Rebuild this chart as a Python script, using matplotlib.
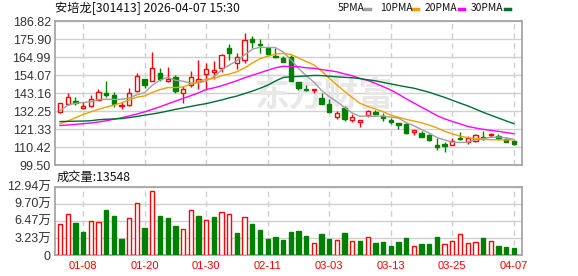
import matplotlib
matplotlib.use("Agg")
import matplotlib.pyplot as plt
import numpy as np
import pandas as pd

plt.rcParams['font.family'] = ['Liberation Sans', 'Noto Sans CJK SC', 'DejaVu Sans']

dates = ["01-05", "01-06", "01-07", "01-08", "01-09", "01-12", "01-13", "01-14", "01-15", "01-16",
         "01-19", "01-20", "01-21", "01-22", "01-23", "01-26", "01-27", "01-28", "01-29", "01-30",
         "02-02", "02-03", "02-04", "02-05", "02-06", "02-09", "02-10", "02-11", "02-12", "02-13",
         "02-24", "02-25", "02-26", "02-27", "03-02", "03-03", "03-04", "03-05", "03-06", "03-09",
         "03-10", "03-11", "03-12", "03-13", "03-16", "03-17", "03-18", "03-19", "03-20", "03-23",
         "03-24", "03-25", "03-26", "03-27", "03-30", "03-31", "04-01", "04-02", "04-03", "04-07"]

opens = [132.0, 136.3, 138.3, 134.0, 135.1, 139.3, 143.2, 142.2, 135.5, 135.9,
         144.4, 151.8, 150.4, 155.5, 150.8, 152.9, 143.2, 148.4, 150.8, 154.5,
         155.9, 158.7, 170.6, 161.6, 163.0, 176.3, 172.9, 170.6, 165.8, 164.4,
         165.0, 150.0, 145.8, 144.8, 140.3, 136.7, 128.8, 133.9, 127.0, 125.4,
         129.8, 131.6, 129.0, 126.6, 125.2, 124.2, 119.3, 119.1, 117.5, 111.8,
         112.0, 111.6, 115.7, 113.7, 114.1, 116.7, 117.7, 117.3, 115.3, 114.3]
highs = [137.1, 143.2, 140.7, 137.5, 141.9, 145.8, 150.7, 144.0, 137.9, 146.4,
         155.3, 151.8, 168.4, 158.3, 159.1, 153.9, 147.4, 156.5, 163.4, 161.4,
         162.4, 167.0, 173.1, 167.6, 179.9, 177.7, 176.3, 171.1, 170.7, 166.0,
         166.2, 150.0, 148.2, 145.8, 143.4, 139.7, 132.5, 135.5, 130.6, 126.8,
         132.8, 133.0, 131.2, 127.8, 125.2, 125.2, 120.7, 119.9, 118.1, 115.9,
         113.5, 115.9, 119.7, 117.1, 118.5, 120.3, 119.1, 118.1, 116.1, 114.9]
lows = [131.0, 135.9, 135.9, 133.5, 134.7, 138.9, 140.7, 134.5, 133.5, 135.5,
        143.6, 146.4, 150.4, 150.4, 149.8, 143.2, 137.1, 147.2, 145.4, 145.2,
        151.8, 155.9, 163.0, 157.9, 161.2, 170.6, 167.4, 166.6, 164.6, 161.8,
        150.4, 144.8, 144.2, 143.4, 136.7, 131.6, 127.2, 126.2, 125.8, 122.3,
        128.4, 129.6, 126.4, 124.6, 121.1, 118.3, 117.7, 116.5, 114.1, 108.4,
        107.2, 111.6, 114.7, 112.4, 113.3, 114.7, 116.5, 114.5, 113.3, 111.8]
closes = [137.1, 140.7, 136.9, 135.3, 139.5, 143.8, 141.9, 136.3, 135.9, 143.2,
          153.7, 148.4, 158.3, 151.8, 151.8, 144.4, 145.8, 152.9, 151.8, 157.9,
          157.1, 166.4, 167.8, 165.4, 175.3, 174.3, 172.3, 167.2, 165.2, 162.0,
          150.8, 146.0, 145.0, 145.8, 136.7, 131.6, 131.0, 127.2, 128.8, 126.8,
          132.2, 130.4, 128.2, 125.4, 123.8, 118.7, 120.7, 116.5, 114.7, 110.4,
          111.2, 114.1, 115.3, 115.7, 117.5, 115.3, 118.1, 115.7, 113.7, 112.5]

# volume in 万手
volumes = [5.87, 7.76, 6.12, 4.42, 6.44, 6.25, 8.52, 7.45, 3.03, 6.94,
           9.84, 5.17, 12.05, 7.45, 7.07, 5.55, 4.92, 8.52, 7.45, 6.63,
           7.26, 8.14, 7.76, 4.23, 7.19, 5.93, 4.73, 3.03, 3.41, 2.84,
           4.35, 4.54, 3.60, 2.27, 3.98, 3.03, 2.84, 4.23, 2.65, 2.65,
           3.34, 2.27, 2.46, 1.70, 2.46, 3.22, 1.70, 2.08, 2.08, 3.41,
           2.08, 2.59, 3.98, 2.27, 2.46, 3.22, 2.65, 1.70, 1.51, 1.35]
vol_dir = list("RRGGRRGGGRRGRGGGRRGRGRRGRGGGGGGGGRGGRGRGRGGGGGRGGGRRRRRGRGGG")

# moving-average values shown before each window is complete
ma5_head = [132.5, 135.8, 137.0, 137.5]
ma10_head = [124.6, 126.2, 128.2, 130.2, 131.8, 133.3, 134.7, 135.9, 137.3]
ma20_head = [123.5, 123.8, 124.2, 124.6, 125.0, 125.6, 126.4, 127.3, 128.2, 129.3,
             130.5, 131.8, 133.3, 134.9, 136.6, 138.3, 140.0, 141.6, 143.3]
ma30_head = [125.9, 126.0, 126.1, 126.2, 126.4, 127.0, 127.3, 127.5, 127.7, 128.3,
             129.0, 129.8, 130.5, 131.3, 132.3, 133.3, 134.2, 135.1, 136.0, 136.8,
             137.9, 139.0, 140.3, 141.4, 142.9, 144.4, 146.1, 148.0, 150.5]

price_ticks = ["99.50", "110.42", "121.33", "132.25", "143.16", "154.07", "164.99", "175.90", "186.82"]
vol_ticks = ["0", "3.23万", "6.47万", "9.70万", "12.94万"]
label_dates = ["01-08", "01-20", "01-30", "02-11", "03-03", "03-13", "03-25", "04-07"]

title = "安培龙[301413] 2026-04-07 15:30"
vol_title = "成交量:13548"
ma_names = ["5PMA", "10PMA", "20PMA", "30PMA"]

RED = "#ff0000"
GREEN = "#008000"
MA_COLORS = ["#a0a0a0", "#f0a000", "#ff00ff", "#006e30"]
GRID = "#d0d0d0"
SPINE = "#a0a0a0"
TXT = "#333333"

n = len(closes)
x = np.arange(n)
cs = pd.Series(closes)

def ma(win, head):
    s = cs.rolling(win).mean().to_numpy()
    s[:len(head)] = head
    return s

mas = [ma(5, ma5_head), ma(10, ma10_head), ma(20, ma20_head), ma(30, ma30_head)]

W, H = 578, 276
fig = plt.figure(figsize=(W / 100, H / 100), dpi=100)

def fx(px):
    return px / W

def fy(py):
    return 1 - py / H

axp = fig.add_axes([fx(55), fy(165), fx(522.3 - 55), fy(21.3) - fy(165)])
axv = fig.add_axes([fx(55), fy(255), fx(522.3 - 55), fy(186.7) - fy(255)])

xlim = (-0.65, 60.1)
tick_idx = [dates.index(d) for d in label_dates]

# ---- price panel
pt = [float(v) for v in price_ticks]
axp.set_xlim(*xlim)
axp.set_ylim(pt[0], pt[-1])
axp.set_yticks(pt)
axp.set_yticklabels(price_ticks)
for v in pt:
    axp.axhline(v, color=GRID, lw=1, zorder=0)
for i in tick_idx:
    axp.axvline(i, color=GRID, lw=1, ls=(0, (4, 3)), zorder=0)

axp.text((255 - 55) / (522.3 - 55), 1 - (95 - 21.3) / (165 - 21.3), "东方财富",
         transform=axp.transAxes, fontsize=25, color="#e8e8e8", fontweight="bold",
         ha="left", va="center", family=["Noto Sans CJK SC"], zorder=0.5)

bw = 0.56
for i in range(n):
    o, h, l, c = opens[i], highs[i], lows[i], closes[i]
    up = c >= o
    col = RED if up else GREEN
    axp.vlines(i, l, h, color=col, lw=1, zorder=2)
    bot = min(o, c)
    ht = max(abs(c - o), 0.25)
    if up:
        axp.bar(i, ht, bw, bottom=bot, facecolor="white", edgecolor=col, lw=1, zorder=3)
    else:
        axp.bar(i, ht, bw, bottom=bot, facecolor=col, edgecolor=col, lw=1, zorder=3)

for m, col in zip(mas, MA_COLORS):
    axp.plot(x, m, color=col, lw=1, zorder=4)

axp.set_xticks([])
for s in axp.spines.values():
    s.set_color(SPINE)
    s.set_linewidth(1.2)
axp.tick_params(axis="y", length=0, labelsize=9, labelcolor=TXT, pad=3)

# ---- volume panel
vt = [0, 3.23, 6.47, 9.70, 12.94]
axv.set_xlim(*xlim)
axv.set_ylim(0, 12.94)
axv.set_yticks(vt)
axv.set_yticklabels(vol_ticks)
for v in vt:
    axv.axhline(v, color=GRID, lw=1, zorder=0)
for i in tick_idx:
    axv.axvline(i, color=GRID, lw=1, ls=(0, (4, 3)), zorder=0)
for i in range(n):
    if vol_dir[i] == "R":
        axv.bar(i, volumes[i], bw, facecolor="white", edgecolor=RED, lw=1, zorder=3)
    else:
        axv.bar(i, volumes[i], bw, facecolor=GREEN, edgecolor=GREEN, lw=1, zorder=3)
axv.set_xticks(tick_idx)
axv.set_xticklabels(label_dates)
axv.tick_params(axis="x", length=0, labelsize=8, labelcolor=RED, pad=4)
axv.tick_params(axis="y", length=0, labelsize=9, labelcolor=TXT, pad=3)
for s in axv.spines.values():
    s.set_color(SPINE)
    s.set_linewidth(1.2)

# ---- texts
fig.text(fx(55), fy(8), title, fontsize=8.8, color="#111111", ha="left", va="center",
         family=["Noto Sans CJK SC"])
fig.text(fx(57), fy(177.5), vol_title, fontsize=8.8, color="#111111", ha="left", va="center",
         family=["Noto Sans CJK SC"])
leg_x = [338, 380, 425, 471]
mark_x = [365, 413, 459, 505]
for name, lx, mx, col in zip(ma_names, leg_x, mark_x, MA_COLORS):
    fig.text(fx(lx), fy(8), name, fontsize=7.4, color="#111111", ha="left", va="center",
             family=["Noto Sans CJK SC"])
    fig.add_artist(plt.Line2D([fx(mx), fx(mx + 5)], [fy(8.5), fy(8.5)], color=col, lw=2.5,
                              transform=fig.transFigure))

fig.savefig("out.png", dpi=100)
